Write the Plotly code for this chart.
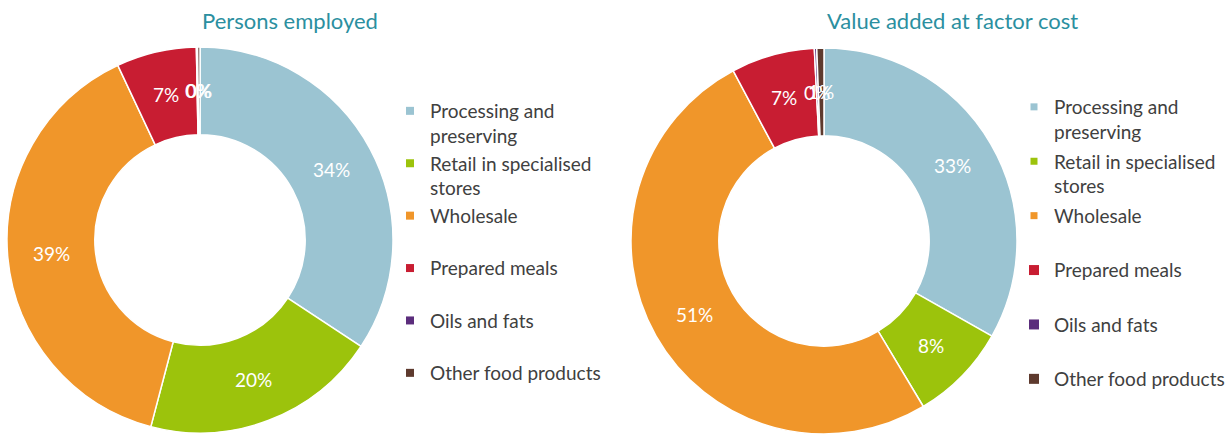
import math
import plotly.graph_objects as go

# Sector shares (%) by activity
categories = [
    "Processing and preserving",
    "Retail in specialised stores",
    "Wholesale",
    "Prepared meals",
    "Oils and fats",
    "Other food products",
]
legend_labels = [
    "Processing and<br>preserving",
    "Retail in specialised<br>stores",
    "Wholesale<br>\u00a0",
    "Prepared meals<br>\u00a0",
    "Oils and fats<br>\u00a0",
    "Other food products<br>\u00a0",
]
persons_employed = [34.3, 19.8, 38.9, 6.7, 0.1, 0.2]
value_added = [33.2, 8.2, 50.8, 7.0, 0.2, 0.6]

titles = ["Persons employed", "Value added at factor cost"]

colors = ["#9bc4d2", "#9cc30c", "#f0962a", "#c81d32", "#5b2d7c", "#5e3a2e"]
title_color = "#2b8fa0"
text_color = "#404040"
FONT = "Lato, 'Open Sans', sans-serif"

W, H = 1227, 434
HOLE = 0.545

# Donut placement in pixels: (left, right, top, bottom)
boxes = [(7, 393, 47, 433), (631, 1017, 48, 434)]


def domain_of(box):
    left, right, top, bottom = box
    return dict(x=[left / W, right / W], y=[max(0, (H - bottom) / H), (H - top) / H])


def slice_labels(values, box):
    """Percentage labels centred in the ring at each slice's mid-angle."""
    left, right, top, bottom = box
    cx, cy = (left + right) / 2, (top + bottom) / 2
    r_out = min(right - left, bottom - top) / 2
    r_mid = r_out * (1 + HOLE) / 2
    total = sum(values)
    cum = 0.0
    anns = []
    for v in values:
        theta = (cum + v / 2) / total * 2 * math.pi
        cum += v
        x = cx + r_mid * math.sin(theta)
        y = cy - r_mid * math.cos(theta)
        anns.append(dict(
            text=f"{round(v / total * 100)}%",
            x=x / W, y=1 - y / H, xref="paper", yref="paper",
            xanchor="center", yanchor="middle", showarrow=False,
            font=dict(family=FONT, size=19, color="white"),
        ))
    return anns


fig = go.Figure()

pie_common = dict(
    sort=False,
    direction="clockwise",
    rotation=0,
    hole=HOLE,
    marker=dict(colors=colors, line=dict(color="white", width=1.5)),
    textinfo="none",
    showlegend=False,
)

series = [persons_employed, value_added]
for name, vals, box in zip(titles, series, boxes):
    fig.add_trace(go.Pie(labels=categories, values=vals, name=name,
                         domain=domain_of(box), **pie_common))

# Legend entries (one group per category so the entries can be spaced out)
for legend_id, sizes in (("legend", [8] * 6), ("legend2", [7, 7, 7, 10, 10, 10])):
    for i, (lab, col) in enumerate(zip(legend_labels, colors)):
        fig.add_trace(go.Scatter(
            x=[None], y=[None], mode="markers",
            marker=dict(symbol="square", size=sizes[i], color=col),
            name=lab, legend=legend_id, legendgroup=f"{legend_id}_{i}",
            hoverinfo="skip",
        ))

legend_common = dict(
    orientation="v",
    xanchor="left",
    yanchor="top",
    valign="top",
    traceorder="grouped",
    bgcolor="rgba(0,0,0,0)",
    font=dict(family=FONT, size=19, color=text_color),
    itemclick=False,
    itemdoubleclick=False,
)

annotations = []
for vals, box in zip(series, boxes):
    annotations += slice_labels(vals, box)
for title, xc in zip(titles, (290, 952)):
    annotations.append(dict(
        text=title, x=xc / W, y=1 - 20 / H, xref="paper", yref="paper",
        xanchor="center", yanchor="middle", showarrow=False,
        font=dict(family=FONT, size=22, color=title_color),
    ))

fig.update_layout(
    width=W,
    height=H,
    margin=dict(l=0, r=0, t=0, b=0, autoexpand=False),
    paper_bgcolor="white",
    plot_bgcolor="white",
    xaxis=dict(visible=False),
    yaxis=dict(visible=False),
    legend=dict(x=390 / W, y=1 - 92 / H, tracegroupgap=0, **legend_common),
    legend2=dict(x=1014 / W, y=1 - 88 / H, tracegroupgap=2, **legend_common),
    annotations=annotations,
)

fig.write_html("out.html")
